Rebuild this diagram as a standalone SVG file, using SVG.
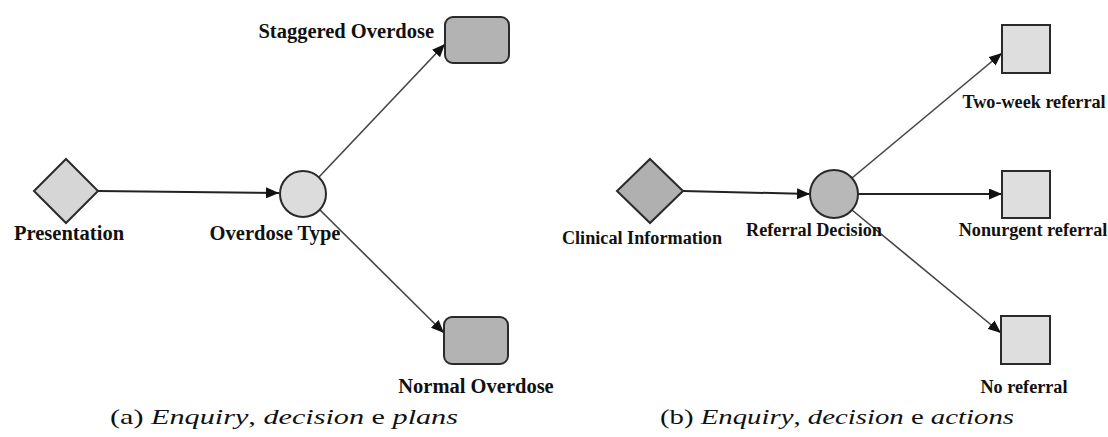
<svg xmlns="http://www.w3.org/2000/svg" width="1108" height="437" viewBox="0 0 1108 437">
  <style>
    .lbl { font-family: "Liberation Serif", "Times New Roman", serif; font-weight: bold; fill: #111; }
    .lA { font-size: 20.5px; }
    .lB { font-size: 18.2px; }
    .cap { font-family: "Liberation Serif", "Times New Roman", serif; font-size: 22px; fill: #111; }
    .it { font-style: italic; }
    .node { stroke: #2a2a2a; stroke-width: 2; }
    .edge { fill: none; stroke: #444; stroke-width: 1.6; }
    .edge2 { fill: none; stroke: #222; stroke-width: 2; }
  </style>
  <defs>
    <marker id="arr" markerUnits="userSpaceOnUse" markerWidth="13" markerHeight="11" refX="13" refY="5.5" orient="auto" viewBox="0 0 13 11">
      <path d="M0,0 L13,5.5 L0,11 z" fill="#111"/>
    </marker>
  </defs>
  <rect width="1108" height="437" fill="#fff"/>

  <g id="connectors">
    <path class="edge2" d="M98,191 L279,193" marker-end="url(#arr)"/>
    <path class="edge" d="M319,177 L445,44" marker-end="url(#arr)"/>
    <path class="edge" d="M320,210 L444,333" marker-end="url(#arr)"/>
    <path class="edge2" d="M683,191 L810,194" marker-end="url(#arr)"/>
    <path class="edge" d="M852,178 L1002,53" marker-end="url(#arr)"/>
    <path class="edge2" d="M858,194 L1002,194" marker-end="url(#arr)"/>
    <path class="edge" d="M852,210 L1001,333" marker-end="url(#arr)"/>
  </g>

  <g id="presentation">
    <polygon class="node" points="66,159 98,191 66,223 34,191" fill="#d6d6d6"/>
    <text class="lbl lA" x="69" y="240" text-anchor="middle">Presentation</text>
  </g>
  <g id="overdose-type">
    <circle class="node" cx="303" cy="194" r="23" fill="#dcdcdc"/>
    <text class="lbl lA" x="275" y="240" text-anchor="middle">Overdose Type</text>
  </g>
  <g id="staggered-overdose">
    <rect class="node" x="445" y="17" width="64" height="46" rx="8" fill="#b3b3b3"/>
    <text class="lbl lA" x="434" y="38" text-anchor="end">Staggered Overdose</text>
  </g>
  <g id="normal-overdose">
    <rect class="node" x="444" y="317" width="64" height="47" rx="8" fill="#b3b3b3"/>
    <text class="lbl lA" x="476" y="393" text-anchor="middle">Normal Overdose</text>
  </g>

  <g id="clinical-information">
    <polygon class="node" points="650,159 683,191 650,223 617,191" fill="#b0b0b0"/>
    <text class="lbl lB" x="642" y="244" text-anchor="middle">Clinical Information</text>
  </g>
  <g id="referral-decision">
    <circle class="node" cx="834" cy="194" r="24" fill="#b8b8b8"/>
    <text class="lbl lB" x="814" y="236" text-anchor="middle">Referral Decision</text>
  </g>
  <g id="two-week-referral">
    <rect class="node" x="1002" y="25" width="48" height="48" fill="#dedede"/>
    <text class="lbl lB" x="1034" y="108" text-anchor="middle">Two-week referral</text>
  </g>
  <g id="nonurgent-referral">
    <rect class="node" x="1002" y="171" width="48" height="47" fill="#dedede"/>
    <text class="lbl lB" x="1033" y="236" text-anchor="middle">Nonurgent referral</text>
  </g>
  <g id="no-referral">
    <rect class="node" x="1001" y="316" width="49" height="48" fill="#dedede"/>
    <text class="lbl lB" x="1024" y="393" text-anchor="middle">No referral</text>
  </g>

  <g id="captions">
    <text class="cap" x="110" y="424" textLength="348" lengthAdjust="spacingAndGlyphs">(a) <tspan class="it">Enquiry</tspan>, <tspan class="it">decision</tspan> e <tspan class="it">plans</tspan></text>
    <text class="cap" x="660" y="424" textLength="354" lengthAdjust="spacingAndGlyphs">(b) <tspan class="it">Enquiry</tspan>, <tspan class="it">decision</tspan> e <tspan class="it">actions</tspan></text>
  </g>
</svg>
